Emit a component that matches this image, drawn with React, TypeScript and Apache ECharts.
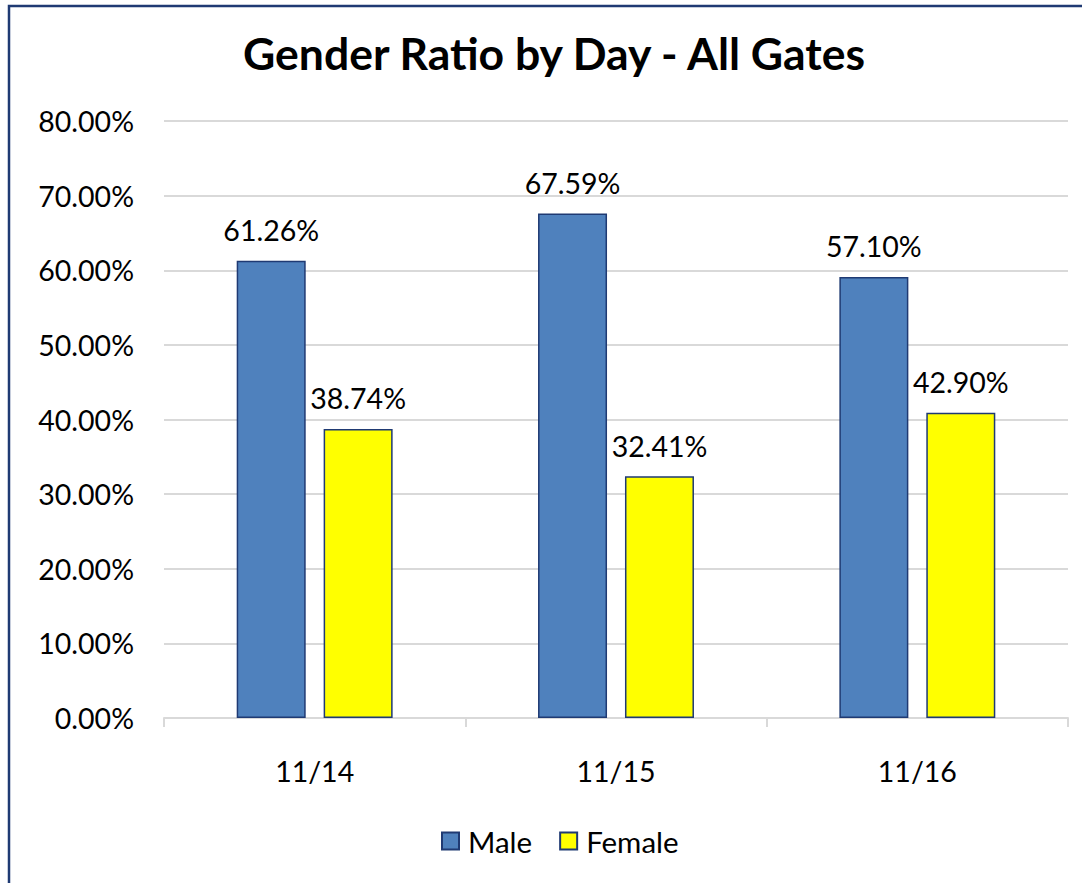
import React, { useEffect, useRef } from "react";
import * as echarts from "echarts";

const categories = ["11/14", "11/15", "11/16"];
const maleValues = [61.26, 67.59, 59.1];
const femaleValues = [38.74, 32.41, 40.9];
const maleLabels = ["61.26%", "67.59%", "57.10%"];
const femaleLabels = ["38.74%", "32.41%", "42.90%"];
const yTicks = { min: 0, max: 80, interval: 10 };

const FONT = "Lato, 'Noto Sans', sans-serif";

export default function App() {
  const ref = useRef<HTMLDivElement>(null);
  useEffect(() => {
    if (!ref.current) return;
    const chart = echarts.init(ref.current, undefined, { renderer: "svg" });
    const labelStyle = { fontFamily: FONT, fontSize: 28.5, color: "#000" };
    chart.setOption({
      animation: false,
      backgroundColor: "#fff",
      title: {
        text: "Gender Ratio by Day - All Gates",
        left: 243,
        top: 30,
        padding: 0,
        textStyle: { fontFamily: FONT, fontSize: 44.5, fontWeight: "bold", color: "#000" },
      },
      graphic: [
        {
          type: "rect",
          shape: { x: 9, y: 6, width: 1200, height: 1000 },
          style: { fill: "none", stroke: "#1F3A73", lineWidth: 2.5 },
          silent: true,
        },
      ],
      legend: {
        top: 821,
        left: 436,
        icon: "rect",
        itemWidth: 17,
        itemHeight: 17,
        itemGap: 27,
        textStyle: { fontFamily: FONT, fontSize: 29.5, color: "#000", padding: [0, 0, 0, 4] },
        data: ["Male", "Female"],
      },
      grid: { left: 164, right: 14, top: 121, bottom: 165 },
      xAxis: {
        type: "category",
        data: categories,
        axisLine: { lineStyle: { color: "#D9D9D9", width: 2 } },
        axisTick: { show: true, length: 9, lineStyle: { color: "#D9D9D9", width: 2 } },
        axisLabel: { ...labelStyle, margin: 38 },
      },
      yAxis: {
        type: "value",
        min: yTicks.min,
        max: yTicks.max,
        interval: yTicks.interval,
        axisLine: { show: false },
        axisTick: { show: false },
        splitLine: { lineStyle: { color: "#D9D9D9", width: 2 } },
        axisLabel: {
          ...labelStyle,
          margin: 30,
          formatter: (v: number) => v.toFixed(2) + "%",
        },
      },
      series: [
        {
          name: "Male",
          type: "bar",
          data: maleValues,
          barWidth: 69,
          barGap: "26%",
          itemStyle: { color: "#4F81BD", borderColor: "#1F3A73", borderWidth: 1.5 },
          label: {
            show: true,
            position: "top",
            distance: 16,
            ...labelStyle,
            formatter: (p: any) => maleLabels[p.dataIndex],
          },
        },
        {
          name: "Female",
          type: "bar",
          data: femaleValues,
          barWidth: 69,
          itemStyle: { color: "#FFFF00", borderColor: "#1F3A73", borderWidth: 1.5 },
          label: {
            show: true,
            position: "top",
            distance: 16,
            ...labelStyle,
            formatter: (p: any) => femaleLabels[p.dataIndex],
          },
        },
      ],
    });
    return () => chart.dispose();
  }, []);
  return (
    <div
      ref={ref}
      style={{ position: "absolute", left: 0, top: 0, width: 1082, height: 883 }}
    />
  );
}
